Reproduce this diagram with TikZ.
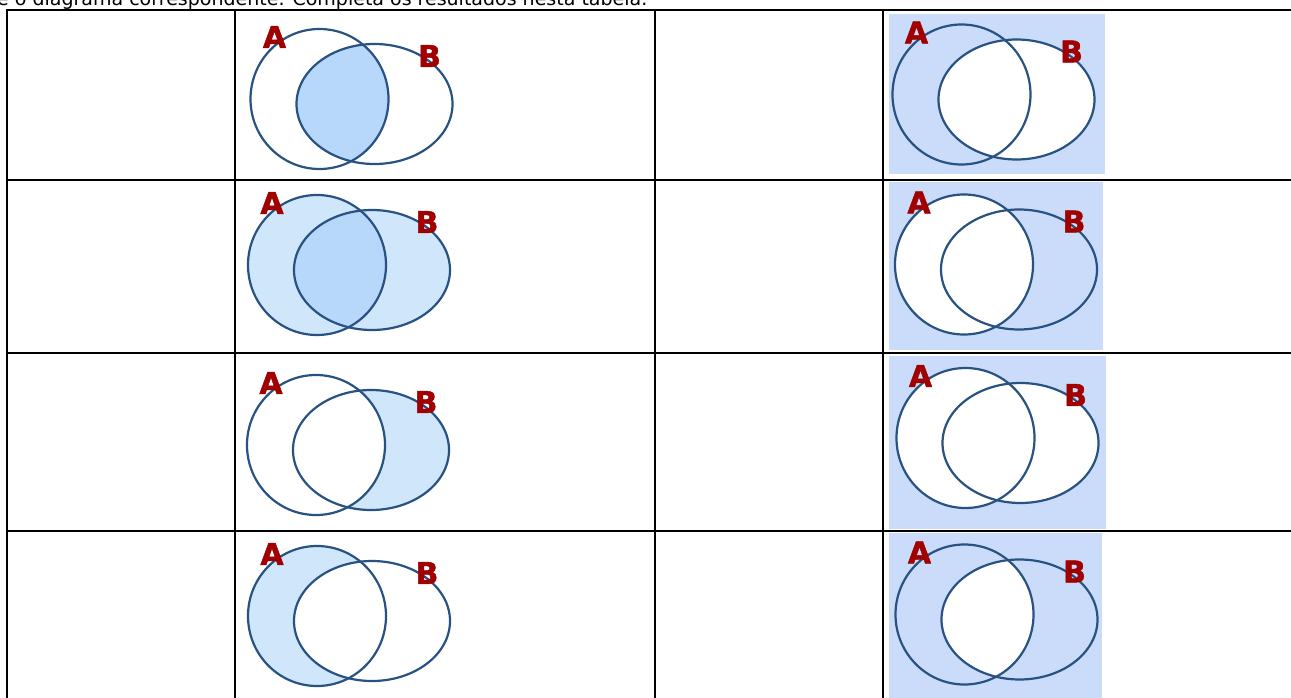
\documentclass[tikz,border=0pt]{standalone}
\usepackage{fontspec}
\setmainfont{DejaVu Sans}
\newfontfamily\labfont{DejaVu Sans}[BoldFeatures={FakeBold=1.5}]
\definecolor{venn}{RGB}{40,82,130}
\definecolor{lab}{RGB}{160,0,0}
\definecolor{fillL}{RGB}{208,230,251}
\definecolor{fillD}{RGB}{183,216,250}
\definecolor{bgblue}{RGB}{202,220,249}
\tikzset{
  vline/.style={draw=venn, line width=2.2pt},
  gridline/.style={draw=black, line width=2pt},
  lbl/.style={text=lab, font=\labfont\bfseries\fontsize{30}{30}\selectfont, inner sep=0pt},
}
\newcommand\pathA{(0,0) ellipse [x radius=69pt, y radius=70pt]}
\newcommand\pathB{(55,5) ellipse [x radius=78pt, y radius=60pt]}
\newcommand\outlines[1]{%
  \draw[vline] \pathA;
  \draw[vline] \pathB;
  \node[lbl] (#1A) at (-45,-62) {A};
  \node[lbl] (#1B) at (110,-43) {B};
}
\begin{document}
\begin{tikzpicture}[x=1pt,y=-1pt]
\useasboundingbox (0,0) rectangle (1291,698);
\clip (0,0) rectangle (1291,698);
\fill[white] (0,0) rectangle (1291,698);
\node[anchor=base west, inner sep=0pt, font=\fontsize{19}{19}\selectfont] (title) at (-3,6) {e o diagrama correspondente. Completa os resultados nesta tabela.};

% Row 1, column 2: A intersect B
\begin{scope}[shift={(319.5,99)}]
  \begin{scope}\clip \pathA; \fill[fillD] \pathB; \end{scope}
  \outlines{ra}
\end{scope}
% Row 1, column 4: complement of B
\fill[bgblue] (889,14) rectangle (1105,174);
\begin{scope}[shift={(961.5,94.5)}]
  \fill[white] \pathB;
  \outlines{rb}
\end{scope}

% Row 2, column 2: A union B
\begin{scope}[shift={(317,265)}]
  \fill[fillL] \pathA;
  \fill[fillL] \pathB;
  \begin{scope}\clip \pathA; \fill[fillD] \pathB; \end{scope}
  \outlines{rc}
\end{scope}
% Row 2, column 4: complement of A
\fill[bgblue] (889,182) rectangle (1103,350);
\begin{scope}[shift={(964,264.5)}]
  \fill[white] \pathA;
  \outlines{rd}
\end{scope}

% Row 3, column 2: B minus A
\begin{scope}[shift={(316,445)}]
  \begin{scope}\clip \pathB; \fill[fillL, even odd rule] \pathA \pathB; \end{scope}
  \outlines{re}
\end{scope}
% Row 3, column 4: complement of A union B
\fill[bgblue] (889,356) rectangle (1106,529);
\begin{scope}[shift={(965.5,438)}]
  \fill[white] \pathA;
  \fill[white] \pathB;
  \outlines{rf}
\end{scope}

% Row 4, column 2: A minus B
\begin{scope}[shift={(317,616)}]
  \begin{scope}\clip \pathA; \fill[fillL, even odd rule] \pathA \pathB; \end{scope}
  \outlines{rg}
\end{scope}
% Row 4, column 4: complement of A intersect B
\fill[bgblue] (889,533) rectangle (1102,698);
\begin{scope}[shift={(964.5,614.5)}]
  \begin{scope}\clip \pathA; \fill[white] \pathB; \end{scope}
  \outlines{rh}
\end{scope}

% table grid
\foreach \yy in {10,180,353,531} \draw[gridline] (6,\yy) -- (1291,\yy);
\foreach \xx in {7,235,655,883} \draw[gridline] (\xx,10) -- (\xx,698);
\end{tikzpicture}
\end{document}
